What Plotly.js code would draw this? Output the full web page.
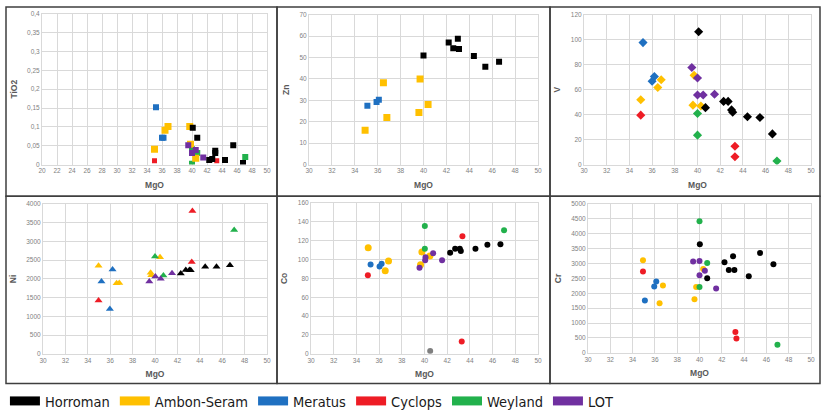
<!DOCTYPE html>
<html>
<head>
<meta charset="utf-8">
<script src="https://cdn.plot.ly/plotly-3.0.1.min.js"></script>
<style>html,body{margin:0;padding:0;background:#fff;}#chart{width:822px;height:417px;}</style>
</head>
<body>
<div id="chart"></div>
<script>
// ---------- group names & colours ----------
const groups = ["Horroman", "Ambon-Seram", "Meratus", "Cyclops", "Weyland", "LOT"];
const colors = ["#000000", "#FFC000", "#1F70C1", "#EE1C25", "#22B14C", "#7030A0"];

// ---------- Panel 1: TiO2 vs MgO ----------
const tio2_mgo_Horroman = [40.1, 40.7, 42.3, 42.7, 43.1, 43.1, 44.4, 45.5, 46.8];
const tio2_val_Horroman = [0.098, 0.071, 0.012, 0.015, 0.031, 0.037, 0.012, 0.051, 0.004];
const tio2_mgo_Ambon = [35.0, 36.4, 36.8, 39.7, 39.8, 40.5];
const tio2_val_Ambon = [0.041, 0.091, 0.101, 0.101, 0.054, 0.017];
const tio2_mgo_Meratus = [35.2, 36.0, 36.2];
const tio2_val_Meratus = [0.152, 0.071, 0.071];
const tio2_mgo_Cyclops = [35.0, 43.3];
const tio2_val_Cyclops = [0.010, 0.010];
const tio2_mgo_Weyland = [40.0, 40.0, 40.7, 47.1];
const tio2_val_Weyland = [0.041, 0.002, 0.031, 0.020];
const tio2_mgo_LOT = [39.5, 40.0, 40.5, 41.5];
const tio2_val_LOT = [0.051, 0.031, 0.039, 0.019];

// ---------- Panel 2: Zn vs MgO ----------
const zn_mgo_Horroman = [40.0, 42.2, 42.6, 43.0, 43.1, 44.4, 45.4, 46.6];
const zn_val_Horroman = [51.0, 57.0, 54.4, 58.8, 54.0, 50.7, 45.7, 48.1];
const zn_mgo_Ambon = [34.9, 36.5, 36.8, 39.6, 39.7, 40.4];
const zn_val_Ambon = [16.0, 38.2, 22.0, 24.3, 40.0, 28.1];
const zn_mgo_Meratus = [35.1, 35.9, 36.1];
const zn_val_Meratus = [27.5, 29.2, 30.3];

// ---------- Panel 3: V vs MgO ----------
const v_mgo_Horroman = [40.1, 40.7, 42.3, 42.7, 43.0, 43.1, 44.4, 45.5, 46.6];
const v_val_Horroman = [106.4, 45.6, 50.6, 50.6, 43.8, 41.9, 38.3, 37.7, 24.6];
const v_mgo_Ambon = [35.0, 36.5, 36.8, 39.6, 39.7, 40.3];
const v_val_Ambon = [51.9, 61.8, 67.9, 47.6, 71.5, 46.9];
const v_mgo_Meratus = [35.2, 36.0, 36.2];
const v_val_Meratus = [97.7, 66.8, 70.5];
const v_mgo_Cyclops = [35.0, 43.3, 43.3];
const v_val_Cyclops = [39.6, 14.7, 6.3];
const v_mgo_Weyland = [40.0, 40.0, 47.0];
const v_val_Weyland = [40.9, 23.6, 2.9];
const v_mgo_LOT = [39.5, 40.0, 40.0, 40.5, 41.5];
const v_val_LOT = [77.8, 69.4, 55.8, 55.8, 56.3];

// ---------- Panel 4: Ni vs MgO ----------
const ni_mgo_Horroman = [42.3, 42.75, 43.07, 43.19, 44.48, 45.49, 46.69];
const ni_val_Horroman = [2144, 2241, 2241, 2232, 2328, 2328, 2363];
const ni_mgo_Ambon = [34.96, 36.57, 36.81, 39.61, 39.67, 40.45];
const ni_val_Ambon = [2354, 1882, 1890, 2162, 2100, 2582];
const ni_mgo_Meratus = [35.22, 36.21, 35.97];
const ni_val_Meratus = [1934, 2249, 1199];
const ni_mgo_Cyclops = [34.96, 43.34, 43.28];
const ni_val_Cyclops = [1427, 3816, 2451];
const ni_mgo_Weyland = [40.0, 40.75, 47.07];
const ni_val_Weyland = [2600, 2092, 3308];
const ni_mgo_LOT = [39.49, 40.03, 40.51, 41.52];
const ni_val_LOT = [1934, 2066, 2004, 2153];

// ---------- Panel 5: Co vs MgO ----------
const co_mgo_Horroman = [42.26, 42.70, 43.11, 43.20, 44.49, 45.54, 46.69];
const co_val_Horroman = [107.3, 111.5, 111.5, 109.1, 111.5, 115.7, 116.4];
const co_mgo_Ambon = [35.04, 36.54, 36.83, 39.65, 39.77, 40.47];
const co_val_Ambon = [112.6, 88.2, 98.6, 94.5, 108.1, 103.9];
const co_mgo_Meratus = [35.25, 36.04, 36.22];
const co_val_Meratus = [94.8, 92.7, 95.5];
const co_mgo_Cyclops = [35.01, 43.34, 43.28];
const co_val_Cyclops = [83.3, 124.8, 13.2];
const co_mgo_Weyland = [40.03, 40.03, 47.01];
const co_val_Weyland = [135.6, 111.5, 131.1];
const co_mgo_LOT = [39.56, 40.06, 40.09, 40.76, 41.55];
const co_val_LOT = [91.3, 99.3, 102.5, 106.7, 99.3];
const co_mgo_Other = [40.5];
const co_val_Other = [3.1];

// ---------- Panel 6: Cr vs MgO ----------
const cr_mgo_Horroman = [40.03, 40.69, 42.24, 42.63, 43.13, 43.01, 44.42, 45.43, 46.63];
const cr_val_Horroman = [3648, 2505, 3044, 2780, 2780, 3242, 2571, 3352, 2978];
const cr_mgo_Ambon = [34.93, 36.72, 36.42, 39.70, 39.55, 40.33];
const cr_val_Ambon = [3110, 2264, 1670, 2209, 1802, 2813];
const cr_mgo_Meratus = [35.10, 35.94, 36.12];
const cr_val_Meratus = [1758, 2231, 2396];
const cr_mgo_Cyclops = [34.93, 43.22, 43.31];
const cr_val_Cyclops = [2736, 703, 484];
const cr_mgo_Weyland = [40.0, 40.0, 40.69, 46.99];
const cr_val_Weyland = [4418, 2209, 3022, 275];
const cr_mgo_LOT = [39.43, 40.0, 40.0, 40.48, 41.49];
const cr_val_LOT = [3066, 3088, 2604, 2758, 2165];

// ---------- axis definitions ----------
const yTitles = ["TiO2", "Zn", "V", "Ni", "Co", "Cr"];
const xRanges = [[20, 50], [30, 50], [30, 50], [30, 50], [30, 50], [30, 50]];
const yRanges = [[0, 0.4], [0, 70], [0, 120], [0, 4000], [0, 160], [0, 5000]];
const yDtick = [0.05, 10, 20, 500, 20, 500];

const W = 822, H = 417;
// plot areas in pixels [left, right, top, bottom]
const boxes = [
  [42, 267, 14, 167], [309, 538, 15, 167], [584, 811, 15, 167],
  [43, 267, 207, 359], [311, 538, 206, 359], [588, 811, 207, 358]
];

const traces = [];
function add(panel, x, y, gi, symbol, size, color, name) {
  const s = panel === 0 ? "" : String(panel + 1);
  traces.push({
    type: "scatter", mode: "markers", x: x, y: y,
    xaxis: "x" + s, yaxis: "y" + s, showlegend: false,
    name: name || groups[gi],
    marker: { symbol: symbol, size: size, color: color || colors[gi], line: { width: 0 } },
    hoverinfo: "x+y+name"
  });
}
// panel 1
add(0, tio2_mgo_Weyland, tio2_val_Weyland, 4, "square", 6);
add(0, tio2_mgo_Meratus, tio2_val_Meratus, 2, "square", 6);
add(0, tio2_mgo_Ambon, tio2_val_Ambon, 1, "square", 7);
add(0, tio2_mgo_Cyclops, tio2_val_Cyclops, 3, "square", 5);
add(0, tio2_mgo_LOT, tio2_val_LOT, 5, "square", 6);
add(0, tio2_mgo_Horroman, tio2_val_Horroman, 0, "square", 6);
// panel 2
add(1, zn_mgo_Meratus, zn_val_Meratus, 2, "square", 6);
add(1, zn_mgo_Ambon, zn_val_Ambon, 1, "square", 7);
add(1, zn_mgo_Horroman, zn_val_Horroman, 0, "square", 6);
// panel 3
add(2, v_mgo_Meratus, v_val_Meratus, 2, "diamond", 7);
add(2, v_mgo_Ambon, v_val_Ambon, 1, "diamond", 7);
add(2, v_mgo_Cyclops, v_val_Cyclops, 3, "diamond", 7);
add(2, v_mgo_Weyland, v_val_Weyland, 4, "diamond", 7);
add(2, v_mgo_LOT, v_val_LOT, 5, "diamond", 7);
add(2, v_mgo_Horroman, v_val_Horroman, 0, "diamond", 7);
// panel 4
add(3, ni_mgo_Meratus, ni_val_Meratus, 2, "triangle-up", 7);
add(3, ni_mgo_Ambon, ni_val_Ambon, 1, "triangle-up", 7);
add(3, ni_mgo_Cyclops, ni_val_Cyclops, 3, "triangle-up", 7);
add(3, ni_mgo_Weyland, ni_val_Weyland, 4, "triangle-up", 7);
add(3, ni_mgo_LOT, ni_val_LOT, 5, "triangle-up", 7);
add(3, ni_mgo_Horroman, ni_val_Horroman, 0, "triangle-up", 7);
// panel 5
add(4, co_mgo_Meratus, co_val_Meratus, 2, "circle", 6);
add(4, co_mgo_Ambon, co_val_Ambon, 1, "circle", 7);
add(4, co_mgo_Cyclops, co_val_Cyclops, 3, "circle", 6);
add(4, co_mgo_Weyland, co_val_Weyland, 4, "circle", 6);
add(4, co_mgo_LOT, co_val_LOT, 5, "circle", 6);
add(4, co_mgo_Horroman, co_val_Horroman, 0, "circle", 6);
add(4, co_mgo_Other, co_val_Other, 0, "circle", 6, "#7F7F7F", "Other");
// panel 6
add(5, cr_mgo_Meratus, cr_val_Meratus, 2, "circle", 6);
add(5, cr_mgo_Ambon, cr_val_Ambon, 1, "circle", 6);
add(5, cr_mgo_Cyclops, cr_val_Cyclops, 3, "circle", 6);
add(5, cr_mgo_Weyland, cr_val_Weyland, 4, "circle", 6);
add(5, cr_mgo_LOT, cr_val_LOT, 5, "circle", 6);
add(5, cr_mgo_Horroman, cr_val_Horroman, 0, "circle", 6);

// legend-only entries (wide colour swatches)
groups.forEach(function (g, i) {
  traces.push({
    type: "scatter", mode: "lines", x: [null], y: [null], name: g,
    line: { color: colors[i], width: 9 }, showlegend: true, hoverinfo: "skip"
  });
});

const layout = {
  width: W, height: H,
  margin: { l: 0, r: 0, t: 0, b: 0 },
  paper_bgcolor: "#ffffff", plot_bgcolor: "#ffffff",
  separators: ",.",
  font: { family: "Liberation Sans, Arial, sans-serif", color: "#595959" },
  showlegend: true,
  legend: {
    orientation: "h", x: 0.006, xanchor: "left", y: 1 - 407 / H, yanchor: "middle",
    font: { family: "Liberation Sans Narrow, DejaVu Sans Condensed, sans-serif", size: 14.5, color: "#1a1a1a" },
    itemwidth: 30, bgcolor: "rgba(0,0,0,0)", tracegroupgap: 0
  },
  shapes: []
};

boxes.forEach(function (b, i) {
  const s = i === 0 ? "" : String(i + 1);
  layout["xaxis" + s] = {
    domain: [b[0] / W, b[1] / W], anchor: "y" + s,
    range: xRanges[i], dtick: 2, tick0: 0, autorange: false,
    showgrid: true, gridcolor: "#D9D9D9", gridwidth: 1, zeroline: false,
    showline: true, linecolor: "#D9D9D9", linewidth: 1, mirror: true,
    ticks: "", tickfont: { size: 6.5, color: "#7F7F7F" },
    title: { text: "<b>MgO</b>", font: { size: 8.5, color: "#595959" }, standoff: 8 },
    fixedrange: true
  };
  layout["yaxis" + s] = {
    domain: [1 - b[3] / H, 1 - b[2] / H], anchor: "x" + s,
    range: yRanges[i], dtick: yDtick[i], tick0: 0, autorange: false,
    showgrid: true, gridcolor: "#D9D9D9", gridwidth: 1, zeroline: false,
    showline: true, linecolor: "#D9D9D9", linewidth: 1, mirror: true,
    ticks: "", tickfont: { size: 6.5, color: "#7F7F7F" },
    title: { text: "<b>" + yTitles[i] + "</b>", font: { size: 8.5, color: "#595959" }, standoff: 8 },
    fixedrange: true
  };
});

// panel frames
const colsPx = [6, 277, 550, 820];
const rowsPx = [7, 199, 389];
for (let r = 0; r < 2; r++) {
  for (let c = 0; c < 3; c++) {
    layout.shapes.push({
      type: "rect", xref: "paper", yref: "paper",
      x0: colsPx[c] / W, x1: colsPx[c + 1] / W,
      y0: 1 - rowsPx[r + 1] / H, y1: 1 - rowsPx[r] / H,
      line: { color: "#3F3F3F", width: 1.5 }, fillcolor: "rgba(0,0,0,0)", layer: "above"
    });
  }
}

Plotly.newPlot("chart", traces, layout, { displayModeBar: false, staticPlot: true });
</script>
</body>
</html>
